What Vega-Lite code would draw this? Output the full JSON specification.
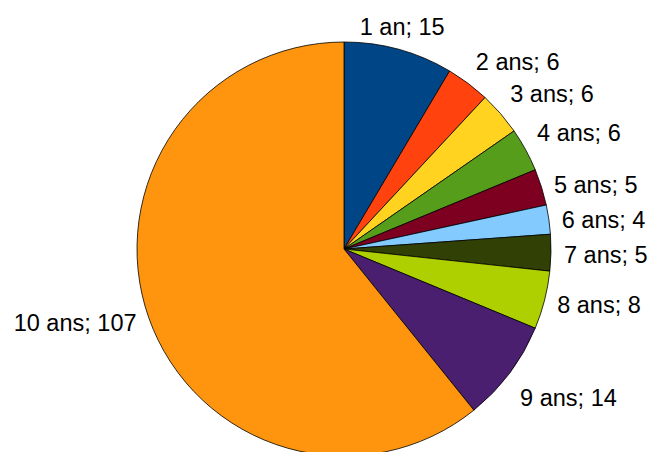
{
  "$schema": "https://vega.github.io/schema/vega-lite/v6.json",
  "autosize": "none",
  "width": 414,
  "height": 414,
  "padding": {"left": 137, "top": 42, "right": 100, "bottom": 0},
  "background": "white",
  "view": {"stroke": null},
  "data": {"values": [
    {"age": "1 an", "n": 15, "order": 1, "label": "1 an; 15"},
    {"age": "2 ans", "n": 6, "order": 2, "label": "2 ans; 6"},
    {"age": "3 ans", "n": 6, "order": 3, "label": "3 ans; 6"},
    {"age": "4 ans", "n": 6, "order": 4, "label": "4 ans; 6"},
    {"age": "5 ans", "n": 5, "order": 5, "label": "5 ans; 5"},
    {"age": "6 ans", "n": 4, "order": 6, "label": "6 ans; 4"},
    {"age": "7 ans", "n": 5, "order": 7, "label": "7 ans; 5"},
    {"age": "8 ans", "n": 8, "order": 8, "label": "8 ans; 8"},
    {"age": "9 ans", "n": 14, "order": 9, "label": "9 ans; 14"},
    {"age": "10 ans", "n": 107, "order": 10, "label": "10 ans; 107"}
  ]},
  "encoding": {
    "theta": {"field": "n", "type": "quantitative", "stack": true},
    "order": {"field": "order", "type": "quantitative"}
  },
  "layer": [
    {
      "mark": {"type": "arc", "outerRadius": 207, "stroke": "black", "strokeWidth": 0.8},
      "encoding": {
        "color": {
          "field": "age", "type": "nominal", "legend": null,
          "scale": {
            "domain": ["1 an", "2 ans", "3 ans", "4 ans", "5 ans", "6 ans", "7 ans", "8 ans", "9 ans", "10 ans"],
            "range": ["#004586", "#FF420E", "#FFD320", "#579D1C", "#7E0021", "#83CAFF", "#314004", "#AECF00", "#4B1F6F", "#FF950E"]
          }
        }
      }
    },
    {
      "mark": {"type": "text", "radius": 220, "align": "center", "baseline": "bottom", "dy": 3, "font": "Liberation Sans", "fontSize": 23.5, "fill": "black"},
      "encoding": {"text": {"condition": {"test": "datum.order == 1", "field": "label"}, "value": ""}}
    },
    {
      "mark": {"type": "text", "radius": 220, "align": "left", "baseline": "bottom", "dy": 2, "font": "Liberation Sans", "fontSize": 23.5, "fill": "black"},
      "encoding": {"text": {"condition": {"test": "datum.order >= 2 && datum.order <= 4", "field": "label"}, "value": ""}}
    },
    {
      "mark": {"type": "text", "radius": 220, "align": "left", "baseline": "middle", "dy": 3, "font": "Liberation Sans", "fontSize": 23.5, "fill": "black"},
      "encoding": {"text": {"condition": {"test": "datum.order >= 5 && datum.order <= 8", "field": "label"}, "value": ""}}
    },
    {
      "mark": {"type": "text", "radius": 220, "align": "left", "baseline": "top", "dy": 6, "font": "Liberation Sans", "fontSize": 23.5, "fill": "black"},
      "encoding": {"text": {"condition": {"test": "datum.order == 9", "field": "label"}, "value": ""}}
    },
    {
      "mark": {"type": "text", "radius": 220, "align": "right", "baseline": "middle", "dy": 2, "font": "Liberation Sans", "fontSize": 23.5, "fill": "black"},
      "encoding": {"text": {"condition": {"test": "datum.order == 10", "field": "label"}, "value": ""}}
    }
  ]
}
